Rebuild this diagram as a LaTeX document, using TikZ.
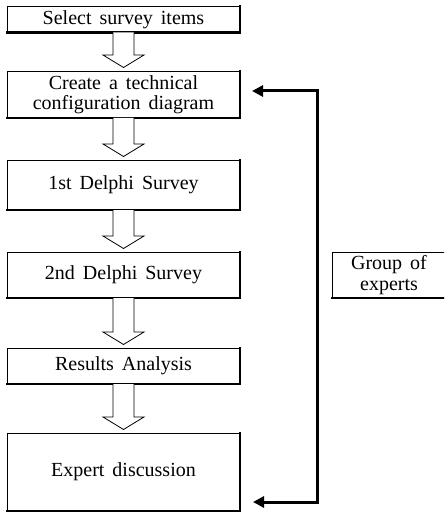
\documentclass[tikz,border=0pt]{standalone}
\usepackage{fontspec}
\setmainfont{Liberation Serif}
\usetikzlibrary{arrows.meta,calc}
\tikzset{
  box/.style={draw, line width=0.9pt, inner sep=0pt, outer sep=0pt, align=center,
    minimum width=233pt,
    font={\fontsize{20}{20.5}\selectfont\spaceskip=0.4em\relax}},
  shadowline/.style={line width=2.6pt, line cap=rect},
  harrow/.style={draw, line width=0.8pt, fill=white, line join=miter},
  fb/.style={line width=3pt, line join=miter,
    {Triangle[length=11pt,width=11pt]}-{Triangle[length=11pt,width=11pt]}}
}
\newcommand\harrowto[2]{%
  \draw[harrow] let \p1=(#1.south), \p2=(#2.north) in
    (\x1-10.5pt,\y1) -- (\x1-10.5pt,\y2+16pt) -- (\x1-20.5pt,\y2+16pt)
    -- (\x1,\y2+3.5pt) -- (\x1+20.5pt,\y2+16pt) -- (\x1+10.5pt,\y2+16pt)
    -- (\x1+10.5pt,\y1);}
\begin{document}
\begin{tikzpicture}[x=1pt,y=-1pt]
\clip (0,0) rectangle (444,513);
\fill[white] (0,0) rectangle (444,513);
\node[box, minimum height=26pt] (b1) at (123.5,19.5) {Select survey items};
\node[box, minimum height=47pt] (b2) at (123.5,94.5) {Create a technical\\configuration diagram};
\node[box, minimum height=50pt] (b3) at (123.5,185) {1st Delphi Survey};
\node[box, minimum height=46pt] (b4) at (123.5,275) {2nd Delphi Survey};
\node[box, minimum height=36pt] (b5) at (123.5,366) {Results Analysis};
\node[box, minimum height=78pt] (b6) at (123.5,472) {Expert discussion};
\node[box, minimum width=114pt, minimum height=46pt] (g) at (389,275) {Group of\\experts};
\foreach \n in {b1,b2,b3,b4,b5,b6,g}
  \draw[shadowline] (\n.north east) -- (\n.south east) -- (\n.south west);
\harrowto{b1}{b2}
\harrowto{b2}{b3}
\harrowto{b3}{b4}
\harrowto{b4}{b5}
\harrowto{b5}{b6}
\coordinate (t1) at (252,91);
\coordinate (c1) at (317,91);
\coordinate (c2) at (317,502);
\coordinate (t2) at (253,502);
\draw[fb] (t1) -- (c1) -- (c2) -- (t2);
\end{tikzpicture}
\end{document}
